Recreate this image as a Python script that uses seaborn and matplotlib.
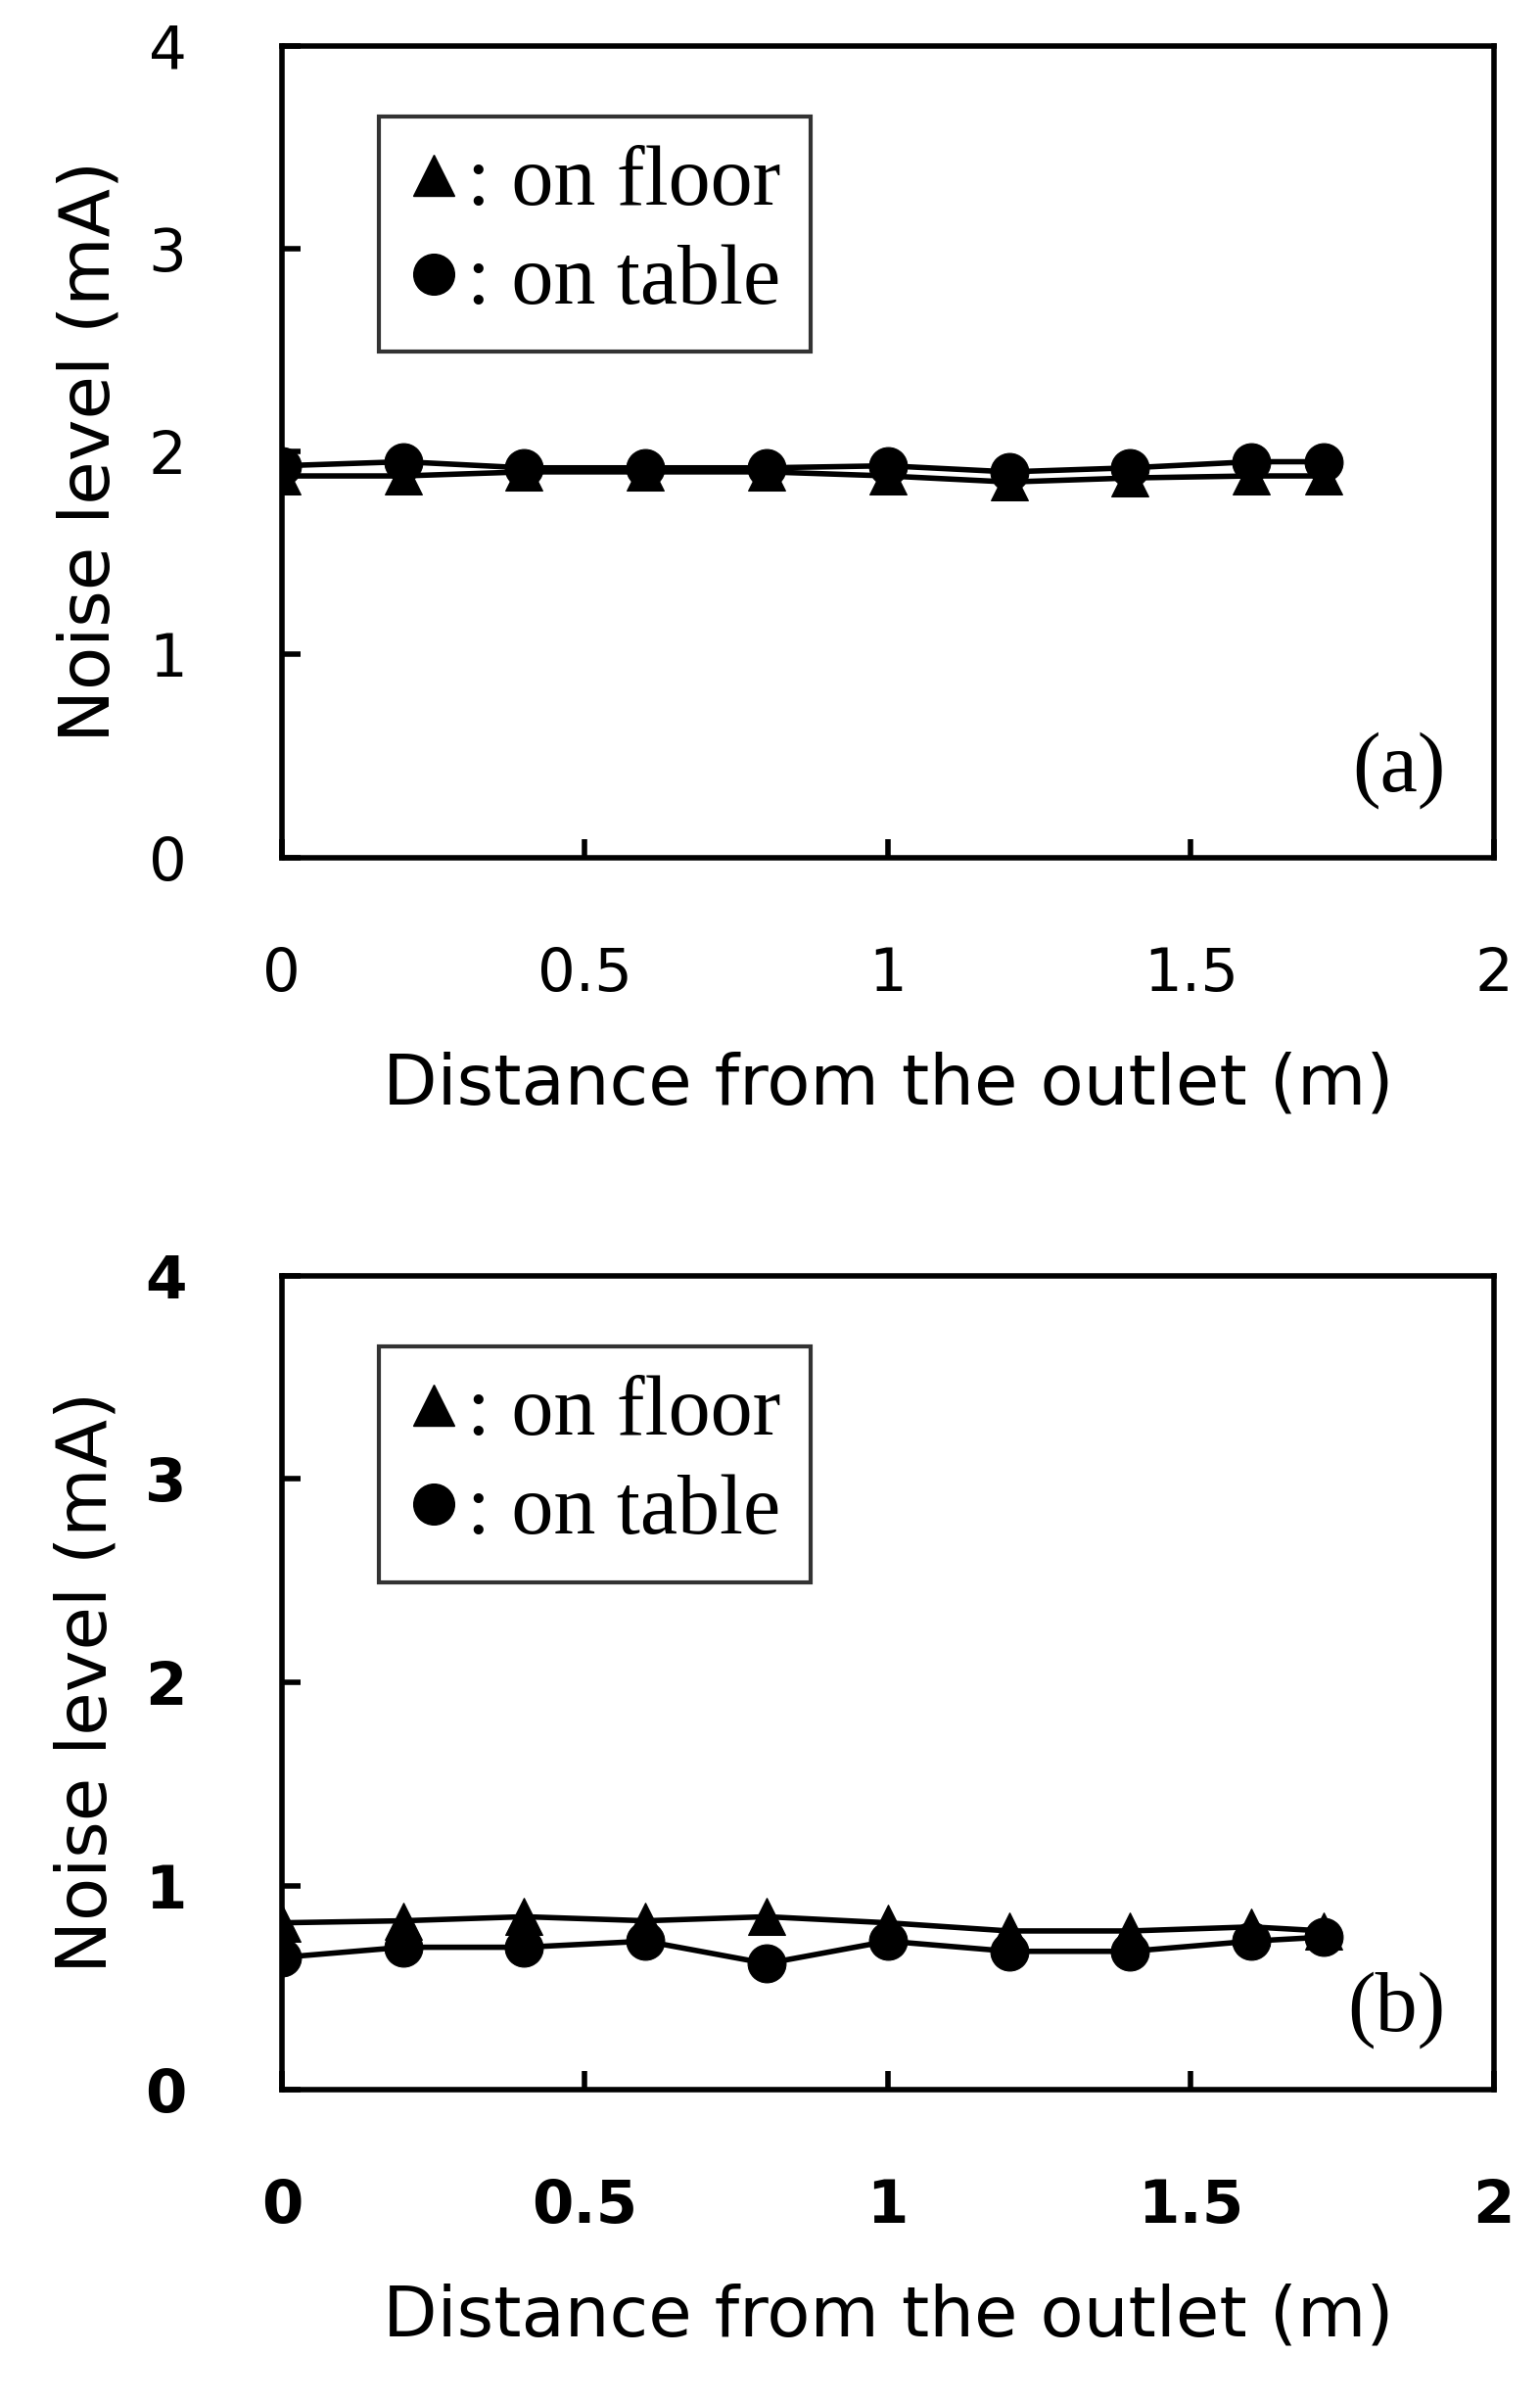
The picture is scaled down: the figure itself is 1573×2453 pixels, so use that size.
import matplotlib
matplotlib.use("Agg")
import matplotlib.pyplot as plt
import seaborn as sns
import pandas as pd

distance = [0, 0.2, 0.4, 0.6, 0.8, 1.0, 1.2, 1.4, 1.6, 1.72]
floor_a = [1.88, 1.88, 1.90, 1.90, 1.90, 1.88, 1.85, 1.87, 1.88, 1.88]
table_a = [1.93, 1.95, 1.92, 1.92, 1.92, 1.93, 1.90, 1.92, 1.95, 1.95]
floor_b = [0.82, 0.83, 0.85, 0.83, 0.85, 0.82, 0.78, 0.78, 0.80, 0.78]
table_b = [0.65, 0.70, 0.70, 0.73, 0.62, 0.73, 0.68, 0.68, 0.73, 0.75]
xticks = [0, 0.5, 1, 1.5, 2]
xticklabels = ["0", "0.5", "1", "1.5", "2"]
yticks = [0, 1, 2, 3, 4]

sns.set_style("white", {"xtick.bottom": True, "ytick.left": True,
                        "text.color": "black", "axes.labelcolor": "black",
                        "xtick.color": "black", "ytick.color": "black"})
plt.rcParams['font.family'] = ['DejaVu Sans']

fig = plt.figure(figsize=(15.73, 24.53), dpi=100)
axa = fig.add_axes([0.183, 0.643, 0.787, 0.338])
axb = fig.add_axes([0.183, 0.130, 0.787, 0.339])

panels = [(axa, floor_a, table_a, "(a)", "normal", (0.96, 0.06)),
          (axb, floor_b, table_b, "(b)", "bold", (0.96, 0.05))]
for ax, fl, tb, tag, weight, tpos in panels:
    df = pd.DataFrame({"x": distance * 2, "y": fl + tb,
                       "s": [": on floor"] * len(fl) + [": on table"] * len(tb)})
    sns.lineplot(data=df, x="x", y="y", style="s", markers={": on floor": "^", ": on table": "o"},
                 dashes=False, color="black", markersize=28, linewidth=4, ax=ax, legend=False,
                 markeredgecolor="black", sort=False)
    ax.set_xlim(0, 2)
    ax.set_ylim(0, 4)
    ax.set_xticks(xticks)
    ax.set_xticklabels(xticklabels, fontweight=weight)
    ax.set_yticks(yticks)
    ax.set_yticklabels([str(v) for v in yticks], fontweight=weight)
    ax.tick_params(direction="in", length=14, width=4, labelsize=44, colors="black")
    ax.tick_params(axis="x", pad=65)
    ax.tick_params(axis="y", pad=70)
    for sp in ax.spines.values():
        sp.set_linewidth(4)
        sp.set_color("black")
    ax.set_xlabel("Distance from the outlet (m)", fontsize=52, labelpad=35, color="black")
    ax.set_ylabel("Noise level (mA)", fontsize=52, labelpad=18, color="black")
    ax.text(tpos[0], tpos[1], tag, transform=ax.transAxes, ha="right", va="bottom",
            fontsize=62, family="Liberation Serif", color="black")
    h1 = plt.Line2D([], [], marker="^", color="black", linestyle="none", markersize=30)
    h2 = plt.Line2D([], [], marker="o", color="black", linestyle="none", markersize=30)
    leg = ax.legend([h1, h2], [": on floor", ": on table"], loc="upper left",
                    bbox_to_anchor=(0.045, 0.965), prop={"family": "Liberation Serif", "size": 62},
                    handlelength=0.6, handletextpad=0.1, fancybox=False, frameon=True,
                    borderpad=0.35, labelspacing=0.25)
    leg.get_frame().set_edgecolor("black")
    leg.get_frame().set_linewidth(3)
    for t in leg.get_texts():
        t.set_color("black")

fig.savefig("out.png", dpi=100)
